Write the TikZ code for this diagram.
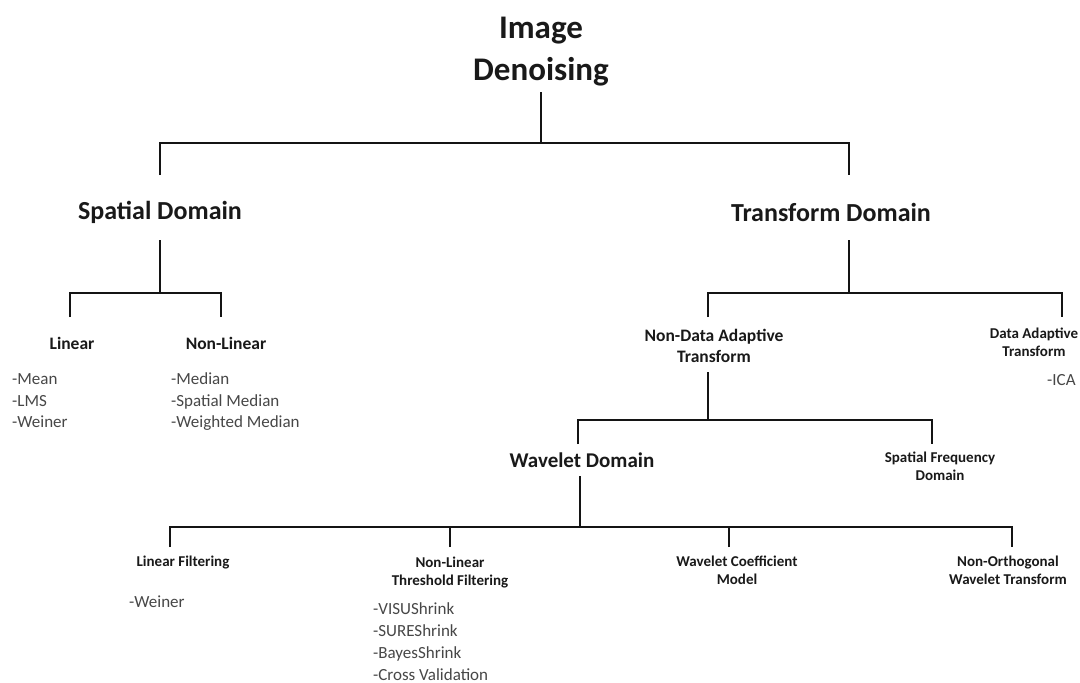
\documentclass[tikz,border=0pt]{standalone}
\usepackage{fontspec}
\setmainfont{Carlito}

\tikzset{
  lblbase/.style={inner sep=0pt, outer sep=0pt, text=black!90},
  titlelbl/.style={lblbase, font=\bfseries\fontsize{33}{42}\selectfont, align=center},
  domainlbl/.style={lblbase, font=\bfseries\fontsize{26}{31}\selectfont},
  subdomainlbl/.style={lblbase, font=\bfseries\fontsize{21}{25}\selectfont},
  catlbl/.style={lblbase, font=\bfseries\fontsize{17.5}{21}\selectfont, align=center},
  smallcatlbl/.style={lblbase, font=\bfseries\fontsize{15}{18}\selectfont, align=center},
  itemlist/.style={inner sep=0pt, anchor=west, align=left, text=black!72,
                font=\fontsize{17}{21.5}\selectfont},
  conn/.style={line width=2.6pt, black!92, line join=miter}
}

\begin{document}
\begin{tikzpicture}[x=1pt, y=-1pt]
\useasboundingbox[fill=white] (0,0) rectangle (1080,683);

% ---- labels ----
\node[titlelbl] (root) at (541,52) {Image\\Denoising};
\node[domainlbl] (spatial) at (160,212) {Spatial Domain};
\node[domainlbl] (transform) at (831,212) {Transform Domain};
\node[catlbl] (linear) at (72,343) {Linear};
\node[catlbl] (nonlinear) at (226,343) {Non-Linear};
\node[catlbl] (ndat) at (714,346) {Non-Data Adaptive\\Transform};
\node[smallcatlbl] (dat) at (1034,342) {Data Adaptive\\Transform};
\node[subdomainlbl] (wavelet) at (582,460) {Wavelet Domain};
\node[smallcatlbl] (sfd) at (940,466) {Spatial Frequency\\Domain};
\node[smallcatlbl] (lf) at (183,563) {Linear Filtering};
\node[smallcatlbl] (nltf) at (450,573) {Non-Linear\\Threshold Filtering};
\node[smallcatlbl] (wcm) at (737,570) {Wavelet Coefficient\\Model};
\node[smallcatlbl] (nowt) at (1008,570) {Non-Orthogonal\\Wavelet Transform};

% ---- method lists ----
\node[itemlist] (linlist) at (12,401) {-Mean\\-LMS\\-Weiner};
\node[itemlist] (nonlinlist) at (171,402) {-Median\\-Spatial Median\\-Weighted Median};
\node[itemlist] (icalist) at (1047,380) {-ICA};
\node[itemlist] (lflist) at (129,602) {-Weiner};
\node[itemlist, font=\fontsize{17}{22}\selectfont] (shrinklist) at (373,642)
  {-VISUShrink\\-SUREShrink\\-BayesShrink\\-Cross Validation};

% ---- connector points ----
\coordinate (s-root) at (541,92);   \coordinate (j-root) at (541,143);
\coordinate (d-spatial) at (160,175); \coordinate (d-transform) at (849,175);

\coordinate (s-spatial) at (160,240); \coordinate (j-spatial) at (160,293);
\coordinate (d-linear) at (70,317);   \coordinate (d-nonlinear) at (221,317);

\coordinate (s-transform) at (849,240); \coordinate (j-transform) at (849,293);
\coordinate (d-ndat) at (708,317);      \coordinate (d-dat) at (1062,317);

\coordinate (s-ndat) at (708,372); \coordinate (j-ndat) at (708,420);
\coordinate (d-wavelet) at (578,444); \coordinate (d-sfd) at (932,444);

\coordinate (s-wavelet) at (580,476); \coordinate (j-wavelet) at (580,527);
\coordinate (d-lf) at (170,547);   \coordinate (d-nltf) at (450,547);
\coordinate (d-wcm) at (729,547);  \coordinate (d-nowt) at (1012,547);

% ---- tree connectors ----
\draw[conn] (s-root) -- (j-root);
\draw[conn] (d-spatial) |- (j-root) -| (d-transform);

\draw[conn] (s-spatial) -- (j-spatial);
\draw[conn] (d-linear) |- (j-spatial) -| (d-nonlinear);

\draw[conn] (s-transform) -- (j-transform);
\draw[conn] (d-ndat) |- (j-transform) -| (d-dat);

\draw[conn] (s-ndat) -- (j-ndat);
\draw[conn] (d-wavelet) |- (j-ndat) -| (d-sfd);

\draw[conn] (s-wavelet) -- (j-wavelet);
\draw[conn] (d-lf) |- (j-wavelet) -| (d-nowt);
\draw[conn] (d-nltf) -- (d-nltf |- j-wavelet);
\draw[conn] (d-wcm) -- (d-wcm |- j-wavelet);
\end{tikzpicture}
\end{document}
